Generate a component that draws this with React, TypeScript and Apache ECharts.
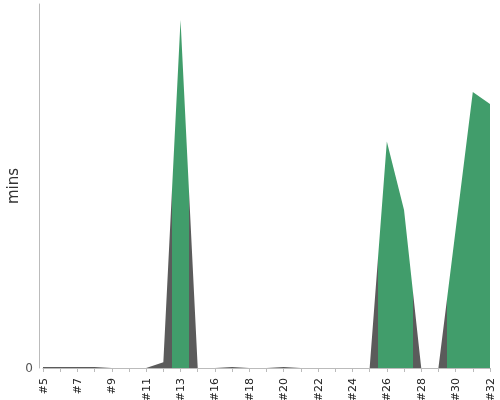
import React, { useEffect, useRef } from "react";
import * as echarts from "echarts";

const categories = [
  "#5", "#6", "#7", "#8", "#9", "#10", "#11", "#12", "#13", "#14",
  "#16", "#17", "#18", "#19", "#20", "#21", "#22", "#23", "#24", "#25",
  "#26", "#27", "#28", "#29", "#30", "#31", "#32",
];

const minutes = [
  0.3, 0.3, 0.3, 0.3, 0, 0, 0, 1.6, 95.6, 0,
  0, 0.3, 0, 0, 0.3, 0, 0, 0, 0, 0,
  62.2, 43.4, 0, 0, 37.9, 75.8, 72.5,
];

// category-position ranges (in index units) drawn in green
const highlightRanges: [number, number][] = [
  [7.5, 8.5],
  [19.5, 21.5],
  [23.5, 26],
];

const yMax = 100;

const GRAY = "#5b5b5b";
const GREEN = "#419d6b";

function buildStops() {
  const span = categories.length - 1;
  const stops: { offset: number; color: string }[] = [];
  let cur = 0;
  stops.push({ offset: 0, color: GRAY });
  highlightRanges.forEach(([a, b]) => {
    const oa = a / span;
    const ob = b / span;
    stops.push({ offset: oa, color: GRAY });
    stops.push({ offset: oa, color: GREEN });
    stops.push({ offset: ob, color: GREEN });
    if (ob < 1) stops.push({ offset: ob, color: GRAY });
    cur = ob;
  });
  if (cur < 1) stops.push({ offset: 1, color: GRAY });
  return stops;
}

export default function App() {
  const ref = useRef<HTMLDivElement>(null);
  useEffect(() => {
    if (!ref.current) return;
    const chart = echarts.init(ref.current, undefined, { renderer: "svg" });
    const font = "DejaVu Sans";
    chart.setOption({
      animation: false,
      grid: {
        left: 43,
        right: 10,
        top: 4,
        bottom: 32,
        containLabel: false,
        outerBoundsMode: "none",
      },
      xAxis: {
        type: "category",
        data: categories,
        boundaryGap: false,
        offset: 4,
        axisLine: { lineStyle: { color: "#bbbbbb", width: 1 } },
        axisTick: { interval: 0, length: 4, lineStyle: { color: "#bbbbbb" } },
        axisLabel: {
          interval: 1,
          rotate: 90,
          color: "#222222",
          fontSize: 11,
          fontFamily: font,
          margin: 6,
        },
        splitLine: { show: false },
      },
      yAxis: {
        type: "value",
        min: 0,
        max: yMax,
        interval: yMax,
        offset: 4,
        name: "mins",
        nameLocation: "middle",
        nameGap: 19,
        nameMoveOverlap: false,
        nameTextStyle: { color: "#333333", fontSize: 15, fontFamily: font },
        axisLine: { show: true, lineStyle: { color: "#bbbbbb", width: 1 } },
        axisTick: { show: false },
        axisLabel: {
          showMaxLabel: false,
          color: "#555555",
          fontSize: 12,
          fontFamily: font,
          margin: 6,
        },
        splitLine: { show: false },
      },
      series: [
        {
          type: "line",
          data: minutes,
          showSymbol: false,
          symbol: "none",
          lineStyle: { width: 0 },
          areaStyle: {
            opacity: 1,
            color: new echarts.graphic.LinearGradient(0, 0, 1, 0, buildStops()),
          },
        },
      ],
    });
    return () => chart.dispose();
  }, []);
  return (
    <div
      ref={ref}
      style={{ position: "fixed", left: 0, top: 0, width: 500, height: 400 }}
    />
  );
}
